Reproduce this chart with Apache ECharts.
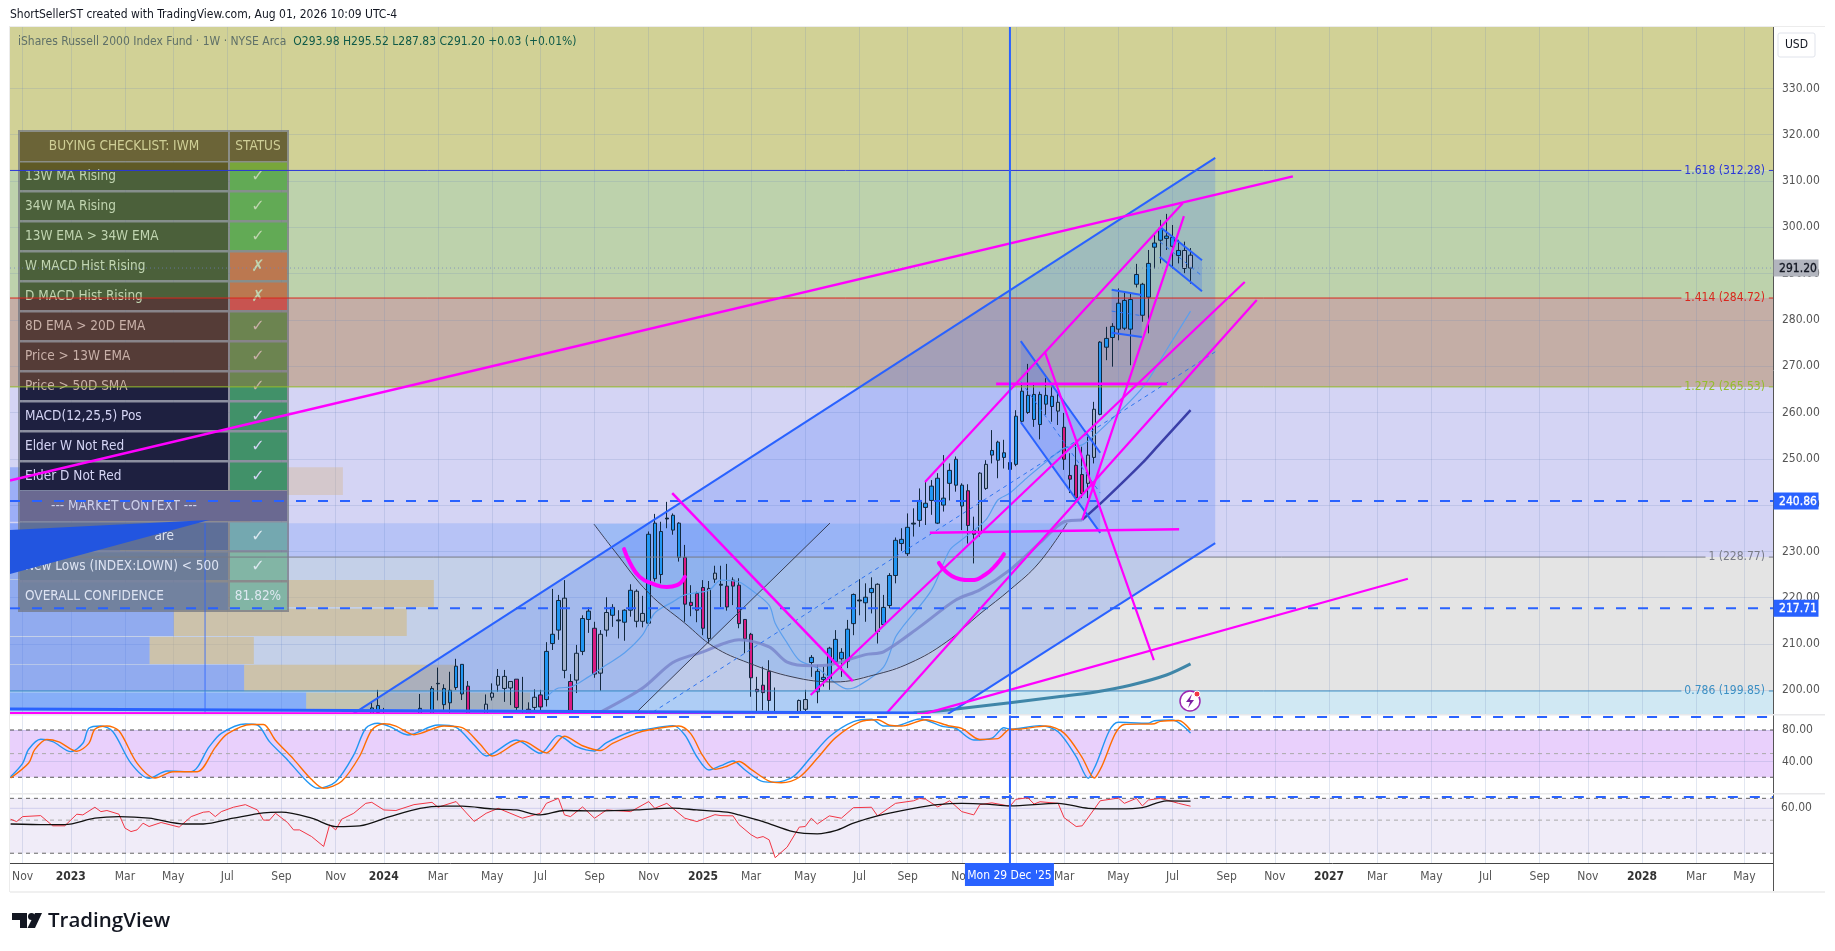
<!DOCTYPE html>
<html><head><meta charset="utf-8">
<style>html,body{margin:0;padding:0;background:#fff}#c{width:1835px;height:951px}</style>
<script src="https://cdn.jsdelivr.net/npm/echarts@6/dist/echarts.min.js"></script>
</head><body><div id="c"></div>
<script>
// ---------- x positions are weeks counted from the week of Mon 29 Dec 2025 ----------
const weekMin = -166.1, weekMax = 126.75;
const priceMin = 194.88, priceMax = 343.26;
const tickWeeks = [-164,-156,-147,-139,-130,-121,-112,-104,-95,-86,-78,-69,-60,-51,-43,-34,-25,-17,-8,1,9,18,27,36,44,53,61,70,79,88,96,105,114,122];
const tickTexts = ['Nov','2023','Mar','May','Jul','Sep','Nov','2024','Mar','May','Jul','Sep','Nov','2025','Mar','May','Jul','Sep','Nov','2026','Mar','May','Jul','Sep','Nov','2027','Mar','May','Jul','Sep','Nov','2028','Mar','May'];
const priceTicks = [200,210,220,230,240,250,260,270,280,290,300,310,320,330];

// ---------- candles ----------
const weeks = [-106,-105,-104,-98,-96,-95,-94,-93,-92,-91,
-90,-87,-86,-85,-84,-83,-82,-81,-80,-79,
-78,-77,-76,-75,-74,-73,-72,-71,-70,-69,
-68,-67,-66,-65,-64,-63,-62,-61,-60,-59,
-58,-57,-56,-55,-54,-53,-52,-51,-50,-49,
-48,-47,-46,-45,-44,-43,-42,-41,-40,-39,
-35,-34,-33,-32,-31,-30,-29,-28,-27,-26,
-25,-24,-23,-22,-21,-20,-19,-18,-17,-16,
-15,-14,-13,-12,-11,-10,-9,-8,-7,-6,
-5,-4,-3,-2,-1,0,1,2,3,4,
5,6,7,8,9,10,11,12,13,14,
15,16,17,18,19,20,21,22,23,24,
25,26,27,28,29,30];
const bodyTop = [196.2,196.7,194,196.1,200.4,201.5,200.4,200,205.2,205.6,
200.9,197,199.4,203,203,201.9,202.4,194.5,195.9,198.5,
199,208.4,212.1,219.4,219.9,201.9,208,215.5,217.1,213.4,
212.1,216.8,217.9,215.2,217.3,221.6,221.4,216.6,233.7,236.1,
234.3,237.2,237.8,236.1,228.7,219,220.9,222.2,222,225.3,
222.9,222.5,223.8,222.7,215.3,212.1,200.2,201.1,204.1,194.5,
197.8,198,207.1,204.1,202.8,209.1,211,208.2,213.2,220.7,
219.5,220.1,222,222.9,217.9,224.8,232.4,232.6,235.2,236.1,
241,240.4,244.1,245.8,241.5,247.5,249.9,244.3,243.1,234.5,
246.9,248.8,251.8,253.6,251.3,249.2,259.2,264.6,263.7,263.9,
263.9,263.7,263.5,262.2,256.8,246.4,248.6,246.6,250.8,260.7,
275.2,276,278.6,283.6,284.2,284.4,289.8,287.7,292.2,296.6,
299.8,298.1,297.8,295,295,293.98];
const bodyBottom = [190,195.2,190,190,193,201.4,196.9,197.3,200.6,199.2,
190,190,198.5,201.1,200.4,200.5,196.3,193,190,196.3,
196.4,198,210.1,213,204.3,190,202.2,208.4,215.3,203.5,
203.7,213,216.2,215,214.7,217.3,214.9,214.9,214.5,224.1,
225,237,234.6,228.7,218.6,218.3,217.3,213.4,211.2,224,
222.7,218,222.5,214.4,211.1,202.7,199.7,199.5,197.8,192,
190,195.9,206,199.7,202.3,202.5,206.1,206.8,206.3,214.4,
219.3,218.9,221.1,212.7,214.2,218.3,224.8,231.7,229.5,235.9,
236.7,239.5,241,236.1,240,244.7,244.3,239.8,235.6,233.7,
233.9,243.6,250.8,249.7,250.3,247.7,248.8,258.1,260,258.5,
257.4,261.8,261.3,260.3,249.9,245.6,241.6,242.5,244.7,250.3,
259.6,274.1,276.2,278,278.2,278,287.7,281,284.9,295.7,
297.2,297.6,295.9,293.9,291.1,291.2];
const wickHigh = [197.5,200.1,196.2,199.2,200.9,204.9,201.3,204,206.8,205.6,
202,199.1,201.5,204.6,204.4,201.9,202.4,202.9,197.4,200.2,
200.1,210.4,221.9,220.6,223.8,203.5,209.8,216.2,217.9,214.8,
213,220.1,218.6,217.3,217.5,222.9,221.8,220.4,234.3,238.1,
236.4,240.7,238.2,236.3,231.4,222.7,221.3,223.8,223.6,226.9,
226.9,227.3,224.4,224.2,215.3,212.4,202.9,205.1,206.5,200.6,
198,200.1,207.6,205.5,205.1,209.4,213,209.1,215.2,220.9,
224,223.1,224.4,223.1,220.6,225.3,233,235,238.2,239.3,
243.6,245,245.4,246.9,250.8,249,250.5,244.7,244.5,237.5,
247.1,249.7,256.2,253.9,254.1,250.5,260.5,266.4,270.5,266.4,
264.5,267.4,265.6,264.2,259.9,251.2,253.4,252.6,254.8,262.3,
275.4,278.5,279.3,286.8,286.1,285.9,292.1,288,295.1,298.7,
301.6,302.9,300.5,297.3,296.9,295.52];
const wickLow = [188,193,188,188,190,197.8,195.3,194,200.1,197.9,
188,188,197.8,199.7,197.5,196.8,195.7,188,188,195.3,
195.7,196.5,208.7,210.9,202.6,188,199.4,207.6,212.4,202.7,
199.9,211.6,213.7,211.2,210.7,215.9,213.6,213.6,214,223.5,
223.1,235,233.6,227.8,214.8,216,214.7,211.9,210.2,223.2,
218,217.2,218.4,213.4,208,198.6,195.4,195.7,195.4,188,
188,188,202.9,197.2,200.8,200.1,205.5,202.9,204.8,211.9,
216.2,214.8,216.6,210.1,214.1,217.7,223.1,230.1,229,233.2,
235.3,235.7,237.9,235.9,238.6,241,242.9,234.6,231.7,227.4,
233.2,243.3,249,245.8,247.9,241.1,248.4,257.5,259.7,256.9,
254.2,259.5,258,257.3,247.6,242.6,241.1,241.5,241.5,249,
259.4,271.3,269.9,275.6,277.8,270.2,287,279.6,277.1,291.1,
292.2,295.1,291.1,292.2,290.1,287.83];
const tones = ('b b g b b n b b b b ' + 'm g g g g g m g m g ' + 'm b b b g m g b b m ' + 'g g b n b b g g b b ' +
 'b n b b m m m m g g ' + 'n m m m m m m m m m ' + 'g g b b b b b b b b ' + 'n b b g b b b b b n ' +
 'b b b b b b b b m m ' + 'g g b b b b b b b b ' + 'b b b g m m m m g g ' + 'b b b b b b b b b b ' + 'b b b b g g').split(' ');

// ---------- moving averages [week, value] ----------
const ma13 = [[-77,198.5],[-75,200.5],[-73,200.7],[-70,202.9],[-67,205.5],[-64,208.1],[-61,212],[-59,216.7],[-56,219.1],[-54,220.6],[-50,221.6],[-48,223.8],[-45,223.4],[-43,221.7],[-40,218.4],[-39,214.5],[-37,210.2],[-35,206.5],[-32,204.8],[-29,201.6],[-27,200.3],[-25,201.1],[-21,205],[-19,211.5],[-18,213.4],[-13,221.7],[-10,230.3],[-8,232.5],[-4,236.8],[-2,241.1],[0,242.6],[3,246.1],[7,250.4],[9,252.3],[12,253],[15,256.2],[22,265.3],[26,273.5],[30,281.9]];
const ma34a = [[-68,195.3],[-61,200.5],[-56,206],[-51,208.3],[-45,210.9],[-40,209.4],[-37,206.1],[-33,205.3],[-30,205.5],[-24,207.7],[-21,208.3],[-15,213.7],[-9,219.5],[-5,221.7],[0,226],[5,231.9],[9,236.4],[12,236.8]];
const ma34b = [[12,236.8],[16,241.5],[22,249.1],[25,253.4],[30,260.5]];
const ma200 = [[-16,195.1],[-10,195.8],[0,197.3],[8,198.6],[14,199.6],[20,201.1],[26,203.3],[30,205.7]];

// ---------- stochastic pane ----------
const stochK = [[-166,20.7],[-164,37.7],[-163,55.5],[-161,68.2],[-159,65.2],[-156,52.5],[-154,63.1],[-153,82.2],[-151,85.1],[-149,77.8],[-146,37.7],[-143,18.7],[-140,28],[-136,27.1],[-133,58.8],[-131,75.8],[-127,87.6],[-125,86.3],[-123,65.2],[-120,41.9],[-117,16.5],[-115,6],[-112,14.4],[-109,48.3],[-107,82.2],[-105,88.5],[-103,84.2],[-100,73.7],[-95,86.3],[-92,83.4],[-89,61],[-87,47],[-82,67.3],[-78,50.4],[-75,72.8],[-72,58.8],[-69,53.4],[-67,63.9],[-63,77.8],[-61,80],[-56,85.5],[-54,73.7],[-52,46],[-50,29.2],[-48,34.7],[-46,40.7],[-44,29.2],[-41,14.4],[-39,13.6],[-36,20.7],[-33,46.1],[-30,71.5],[-26,90.5],[-23,93.6],[-21,85.1],[-19,85.1],[-15,94],[-11,84.2],[-9,82.2],[-6,67.3],[-3,69.5],[-1,82.9],[0,80.9],[5,85.5],[8,77.8],[11,46.1],[13,18.7],[14,31.4],[18,89.8],[23,88.5],[24,91.8],[27,92.7],[30,76]];
const stochD = [[-166,19],[-163,38],[-162,55],[-160,68],[-158,65],[-155,53],[-153,63],[-152,81],[-150,85],[-148,79],[-145,38],[-142,19],[-139,27],[-135,27],[-132,58],[-130,75],[-126,87],[-124,87],[-122,67],[-119,43],[-116,17],[-114,6],[-111,15],[-108,47],[-106,80],[-104,88],[-102,85],[-99,74],[-94,85],[-91,83],[-88,62],[-86,47],[-81,66],[-77,51],[-74,72],[-71,60],[-68,54],[-66,63],[-62,76],[-60,80],[-55,85],[-53,75],[-51,47],[-49,30],[-47,34],[-45,40],[-43,30],[-40,15],[-38,13],[-35,20],[-32,44],[-29,70],[-25,90],[-22,93],[-20,86],[-18,85],[-14,93],[-10,85],[-8,82],[-5,68],[-2,69],[0,81],[1,81],[6,85],[9,76],[12,45],[14,19],[15,30],[19,87],[24,88],[25,91],[28,92],[30,80]];

// ---------- RSI pane ----------
const rsi = [[-166,50.7],[-165,48.9],[-164,52.8],[-161,53.6],[-159,45.8],[-157,45.8],[-155,54.8],[-154,54.2],[-152,61],[-151,57],[-150,58],[-148,54.8],[-147,44.2],[-146,41.9],[-145,43],[-144,47.7],[-143,45.3],[-141,48.2],[-138,44.9],[-136,52.8],[-134,56.5],[-133,57],[-132,52.8],[-131,57],[-129,61],[-127,63.5],[-125,58.5],[-124,50],[-123,50],[-122,55.6],[-120,48.2],[-119,43],[-118,43],[-116,38.8],[-114,33.3],[-113,46.6],[-112,43],[-111,50.7],[-109,55.6],[-107,64.8],[-106,65.8],[-104,58.5],[-102,58],[-99,63.5],[-96,65.8],[-95,61],[-92,66.6],[-89,49],[-87,55.6],[-85,60],[-81,51.5],[-78,55.6],[-77,64.8],[-75,70],[-74,54.2],[-73,52.8],[-71,61.3],[-69,51.5],[-67,58.5],[-63,57],[-60,66.6],[-59,60],[-57,64.8],[-54,51.5],[-52,48.9],[-49,54.4],[-48,53.6],[-46,53.4],[-45,46.6],[-43,39.9],[-42,37.9],[-41,38.8],[-40,36.9],[-39,28],[-37,33],[-35,44.9],[-34,45.3],[-33,51.5],[-32,47.1],[-30,53.4],[-28,51.5],[-26,60.6],[-23,61],[-22,53.4],[-19,64.8],[-16,67.4],[-15,70],[-14,69],[-12,61.3],[-10,67.4],[-8,57],[-6,54.2],[-5,63.5],[-3,65.3],[0,62],[1,69],[3,70.6],[4,64.1],[5,66.4],[8,64.8],[9,51.9],[11,45.3],[12,45.8],[15,67.4],[18,70.3],[19,64.8],[21,70],[22,62.3],[23,68.2],[25,70],[28,64.8],[30,62]];
const rsiMa = [[-166,47.1],[-160,46.6],[-157,46.6],[-152,51.5],[-148,52.8],[-143,51.5],[-137,47.1],[-134,47.1],[-129,51.5],[-124,56],[-121,56.5],[-116,51.5],[-112,45.3],[-108,45.8],[-103,52.8],[-98,60],[-94,62],[-91,62],[-86,59.4],[-82,58.5],[-78,54.2],[-74,58],[-69,57.6],[-62,58.5],[-56,60.2],[-52,58.5],[-47,56.5],[-45,54.2],[-41,48.9],[-36,41.9],[-32,40.5],[-29,42.5],[-26,47.7],[-22,53.4],[-16,60],[-12,63.5],[-8,64.8],[-4,64.1],[0,62.3],[8,64.8],[13,60],[18,59.4],[22,60.6],[26,67.4],[30,67]];

// ---------- background fib zones [low, high] and their levels ----------
const zoneLows  = [312.28,284.72,265.53,228.77,199.85,190];
const zoneHighs = [350,312.28,284.72,265.53,228.77,199.85];
const zoneFills = ['#d1d196','#bdd2ac','#c4aea6','#d4d4f4','#e4e4e4','#d0e8f3'];
const fibValues = [312.28,284.72,265.53,228.77,199.85];
const fibTexts  = ['1.618 (312.28)','1.414 (284.72)','1.272 (265.53)','1 (228.77)','0.786 (199.85)'];
const fibColors = ['#2a36d8','#d9261c','#93bd2d','#787b86','#3b8fc4'];
const fibGapFrom= [112.2,112.2,112.2,116.2,112.2];

// ---------- volume profile rows: price low, price high, blue end week, beige end week ----------
const vpLow  = [195.9,199.8,205.7,211.7,218,224,230.1,236.4,242.2];
const vpHigh = [199.5,205.5,211.5,217.6,223.8,229.9,236.1,242.2,248.2];
const vpBlue = [-116.9,-127.2,-142.9,-138.9,-133.7,-141.2,-147.8,-151.2,-134.6];
const vpBeige= [-79.7,-91.9,-125.6,-100.2,-95.7,-122.9,-129.6,-126.2,-110.8];

// ---------- drawings as [week, price] ----------
const magentaLines = [
 {p:[[-166.1,245.3],[47,311]],w:2.5},{p:[[-14.3,194.9],[66.1,224.1]],w:2.2},{p:[[-14.1,245],[28.7,305.2]],w:2.2},
 {p:[[-33.1,199],[39,288.2]],w:2.2},{p:[[-20.6,194.9],[41,284.3]],w:2.2},{p:[[-56.1,242.6],[-26.1,202]],w:2.5},
 {p:[[-13.3,234],[28.1,234.8]],w:2.5},{p:[[-2.3,266.2],[26.1,266.2]],w:2.8},{p:[[5.8,273.1],[23.9,206.5]],w:2.2},
 {p:[[12,236.8],[28.9,302.4]],w:2.2},{p:[[-166.1,195.1],[-14.3,194.95]],w:2}];
const smileA = [[-64.1,230.5],[-63.1,227.5],[-61.5,224.5],[-59.3,223],[-57,222.3],[-55.3,222.7],[-54,224.5]];
const smileB = [[-11.8,227.5],[-10.6,225.6],[-9,224.3],[-6.5,223.8],[-4.2,224.9],[-2.3,227.1],[-1,229.4]];
const blueLines = [
 [[-109.1,194.9],[34.1,315]],[[-10.3,194.9],[34.1,231.8]],
 [[1.8,275.4],[15,251.3]],[[1.8,257.9],[15,234]],
 [[16.9,286.5],[21.9,285.4]],[[16.9,277.2],[21.9,276.3]],
 [[24.9,300.1],[31.9,292.9]],[[24.9,293.6],[31.9,286.2]]];
const baseLine = [[-166.1,195.96],[-15.4,195.1]];
const blueDashes = [[[-59.3,195.3],[34.1,273.1]],[[1.8,266.7],[15,242.6]],[[16.9,281.9],[21.9,280.9]],[[24.9,296.9],[31.9,289.5]]];
const channelFills = [
 [[-109.1,194.9],[34.1,315],[34.1,231.8],[-10.3,194.9]],
 [[1.8,275.4],[15,251.3],[15,234],[1.8,257.9]],
 [[16.9,286.5],[21.9,285.4],[21.9,276.3],[16.9,277.2]],
 [[24.9,300.1],[31.9,292.9],[31.9,286.2],[24.9,293.6]]];
const cupArc = [[-69.1,235.9],[-65.8,230.3],[-60,221],[-54,214.5],[-49.2,209.4],[-43.4,205.9],[-36.2,202.9],[-29.1,201.8],[-22.6,203.3],[-16.6,205.9],[-10.6,210.4],[-4.8,216.7],[0,221.7],[4.8,227.5],[9.5,236.1]];
const cupLine = [[-62.3,194.9],[-29.9,236.1]];
const boxLeft = [[-166.1,236.1],[-29.9,236.1],[-62.3,194.9],[-166.1,194.9]];
const cornerWedge = [[-166.1,234.6],[-133,236.8],[-166.1,225.1]];

// ---------- checklist ----------
const checkNames = ['13W MA Rising','34W MA Rising','13W EMA > 34W EMA','W MACD Hist Rising','D MACD Hist Rising','8D EMA > 20D EMA','Price > 13W EMA','Price > 50D SMA','MACD(12,25,5) Pos','Elder W Not Red','Elder D Not Red'];
const checkMarks = ['✓','✓','✓','✗','✗','✓','✓','✓','✓','✓','✓'];

// ---------- styling ----------
const FONT = '"DejaVu Sans Condensed","DejaVu Sans",sans-serif';
const BLUE = '#2962ff', MAG = '#ff00ff';
const toneFill = {b:'#2196f3', g:'#a3b1cc', m:'#d81b82', n:'#12283f'};
const BORDER = '#12283f';

function lineS(name, pts, color, width, o={}, axis=0){
  return {type:'line',name,data:pts,xAxisIndex:axis,yAxisIndex:axis,symbol:'none',silent:true,animation:false,clip:true,
    smooth:o.smooth||false,z:o.z||6,lineStyle:{color,width,type:o.type||'solid',opacity:o.opacity==null?1:o.opacity,cap:o.cap||'butt'},
    endLabel:o.endLabel};
}
function polyS(name, pts, fill, z, axis=0){
  return {type:'custom',name,xAxisIndex:axis,yAxisIndex:axis,silent:true,animation:false,clip:true,z,data:[pts[0]],
    renderItem:(p,api)=>({type:'polygon',shape:{points:pts.map(q=>api.coord(q))},style:{fill}})};
}
function rectsS(name, rows, z, axis=0){ // rows: [w0,w1,lo,hi,fill]
  return {type:'custom',name,xAxisIndex:axis,yAxisIndex:axis,silent:true,animation:false,clip:true,z,
    data:rows.map(r=>r.slice(0,4)),encode:{x:[0,1],y:[2,3]},
    renderItem:(p,api)=>{const a=api.coord([api.value(0),api.value(3)]),b=api.coord([api.value(1),api.value(2)]);
      return {type:'rect',shape:{x:a[0],y:a[1],width:b[0]-a[0],height:b[1]-a[1]},style:{fill:rows[p.dataIndex][4]}};}};
}
function tagS(price, text, bg, fg){
  return {type:'custom',name:'tag '+text,silent:true,animation:false,clip:false,z:12,data:[[weekMax,price]],
    renderItem:(p,api)=>{const c=api.coord([weekMax,price]);
      return {type:'group',children:[
        {type:'rect',shape:{x:c[0]+0.5,y:c[1]-8.5,width:45,height:17},style:{fill:bg},z2:1},
        {type:'text',style:{x:c[0]+25,y:c[1]+1,text,fill:fg,stroke:fg,lineWidth:0.3,font:'12px '+FONT,textAlign:'center',textVerticalAlign:'middle'},z2:2}]};}};
}

const clampP = v => Math.max(v, priceMin);
const candles = weeks.map((w,i)=>{const up=tones[i]==='b';const f=toneFill[tones[i]];
  const t=clampP(bodyTop[i]),b=clampP(bodyBottom[i]);
  return {value:[w, up?b:t, up?t:b, clampP(wickLow[i]), clampP(wickHigh[i])],
    itemStyle:{color:f,color0:f,borderColor:BORDER,borderColor0:BORDER,borderColorDoji:BORDER,borderWidth:1}};});

const series = [];
series.push(rectsS('fib zones', zoneLows.map((l,i)=>[weekMin,weekMax,l,zoneHighs[i],zoneFills[i]]), 1));
series.push(polyS('box', boxLeft, 'rgba(41,110,255,0.17)', 3));
series.push(polyS('cup fill', cupArc, 'rgba(33,150,243,0.17)', 3));
series.push(rectsS('volume blue', vpLow.map((l,i)=>[weekMin,vpBlue[i],l,vpHigh[i],'rgba(41,98,255,0.33)']), 3));
series.push(rectsS('volume beige', vpLow.map((l,i)=>[vpBlue[i],vpBeige[i],l,vpHigh[i],i===8?'rgba(212,172,114,0.3)':'rgba(212,180,110,0.5)']), 3));
channelFills.forEach((c,i)=>series.push(polyS('channel '+i, c, 'rgba(41,98,255,0.2)', 3)));
series.push(lineS('poc',[[-133.7,236.1],[-133.7,190]],'rgba(41,98,255,0.55)',1.5,{z:4}));
series.push({type:'candlestick',name:'IWM',data:candles,barWidth:4,silent:true,animation:false,clip:true,z:5,xAxisIndex:0,yAxisIndex:0});
series.push(lineS('13W',ma13,'#5b9fee',1.2,{smooth:.3}));
series.push(lineS('34W a',ma34a,'#7a86cc',3,{smooth:.3,opacity:.85}));
series.push(lineS('34W b',ma34b,'#3b3fa8',2.5,{smooth:.3}));
series.push(lineS('200W',ma200,'#3f86a8',3,{smooth:.3}));
series.push(lineS('cup arc',cupArc,'#3a3f55',1,{smooth:.4}));
series.push(lineS('cup line',cupLine,'#3a3f55',1));
series.push(lineS('last',[[weekMin,291.2],[weekMax,291.2]],'rgba(110,125,190,.7)',1,{type:[1,3]}));
series.push(lineS('240.86',[[weekMin,240.86],[weekMax,240.86]],BLUE,2,{type:[10,12]}));
series.push(lineS('217.71',[[weekMin,217.71],[weekMax,217.71]],BLUE,2,{type:[10,12]}));
series.push({type:'custom',name:'fib levels',silent:true,animation:false,clip:true,z:6,data:fibValues.map(v=>[0,v]),
  renderItem:(p,api)=>{const i=p.dataIndex,v=fibValues[i],c=fibColors[i];
    const a=api.coord([weekMin,v]),b=api.coord([fibGapFrom[i],v]),e=api.coord([125.4,v]),z=api.coord([weekMax,v]);
    const ln=(x1,x2)=>({type:'line',shape:{x1,y1:a[1],x2,y2:a[1]},style:{stroke:c,lineWidth:1}});
    return {type:'group',children:[ln(a[0],b[0]-4),ln(e[0]+4,z[0]),
      {type:'text',style:{x:e[0],y:a[1],text:fibTexts[i],fill:c,font:'12px '+FONT,textAlign:'right',textVerticalAlign:'middle'}}]};}});
blueLines.forEach((p,i)=>series.push(lineS('blue '+i,p,BLUE,2)));
blueDashes.forEach((p,i)=>series.push(lineS('mid '+i,p,'#2f74f0',1,{type:[4,4]})));
magentaLines.forEach((m,i)=>series.push(lineS('trend '+i,m.p,MAG,m.w,{z:7})));
series.push(lineS('base',baseLine,BLUE,3,{z:8}));
series.push(lineS('smile a',smileA,MAG,4,{smooth:.5,z:7,cap:'round'}));
series.push(lineS('smile b',smileB,MAG,4,{smooth:.5,z:7,cap:'round'}));
series.push(polyS('wedge',cornerWedge,'#2255e0',9));
// stochastic pane
series.push(rectsS('stoch band',[[weekMin,weekMax,20,80,'#e9d0fc']],1,1));
series.push(lineS('s80',[[weekMin,80],[weekMax,80]],'#555',1,{type:[4,4]},1));
series.push(lineS('s50',[[weekMin,50],[weekMax,50]],'#aaa',1,{type:[4,4]},1));
series.push(lineS('s20',[[weekMin,20],[weekMax,20]],'#555',1,{type:[4,4]},1));
series.push(lineS('stoch top',[[-84.2,96.5],[weekMax,96.5]],BLUE,2,{type:[10,12]},1));
series.push(lineS('%K',stochK,'#2196f3',1.4,{smooth:.3},1));
series.push(lineS('%D',stochD,'#ff6d00',1.4,{smooth:.3},1));
// RSI pane
series.push(rectsS('rsi band',[[weekMin,weekMax,30,70,'#f0ecf8']],1,2));
series.push(lineS('r60',[[weekMin,60],[weekMax,60]],'rgba(170,170,225,.45)',1,
  {z:2,endLabel:{show:true,formatter:'60.00',color:'#555',fontFamily:FONT,fontSize:12,distance:8,padding:[3,0,0,0]}},2));
series.push(lineS('r70',[[weekMin,70],[weekMax,70]],'#666',1,{type:[4,4]},2));
series.push(lineS('r50',[[weekMin,50],[weekMax,50]],'#aaa',1,{type:[4,4]},2));
series.push(lineS('r30',[[weekMin,30],[weekMax,30]],'#666',1,{type:[4,4]},2));
series.push(lineS('rsi top',[[-85.4,71.4],[weekMax,71.4]],BLUE,2,{type:[10,12]},2));
series.push(lineS('RSI',rsi,'#f23645',1,{},2));
series.push(lineS('RSI MA',rsiMa,'#111',1.3,{smooth:.3},2));
// crosshair line in all panes
series.push(lineS('v0',[[0,190],[0,350]],BLUE,2,{z:8},0));
series.push(lineS('v1',[[0,0],[0,101]],BLUE,2,{z:8},1));
series.push(lineS('v2',[[0,25.8],[0,76]],BLUE,2,{z:8},2));
// tags
series.push(tagS(291.2,'291.20','#b2b5be','#131722'));
series.push(tagS(240.86,'240.86',BLUE,'#fff'));
series.push(tagS(217.71,'217.71',BLUE,'#fff'));
series.push({type:'custom',name:'date tag',silent:true,animation:false,clip:false,z:12,xAxisIndex:2,yAxisIndex:2,data:[[0,25.8]],
  renderItem:(p,api)=>{const c=api.coord([0,25.8]);
    return {type:'group',children:[
      {type:'rect',shape:{x:c[0]-45,y:c[1],width:89,height:23},style:{fill:BLUE},z2:1},
      {type:'text',style:{x:c[0]-0.5,y:c[1]+13,text:"Mon 29 Dec '25",fill:'#fff',font:'12px '+FONT,textAlign:'center',textVerticalAlign:'middle'},z2:2}]};}});

// ---------- page furniture and checklist drawn with graphic ----------
const g = [];
const rect=(x,y,w,h,fill,z=4)=>g.push({type:'rect',shape:{x,y,width:w,height:h},style:{fill},z,silent:true});
const text=(x,y,t,fill,font,align='left',z=5)=>g.push({type:'text',style:{x,y,text:t,fill,font,textAlign:align,textVerticalAlign:'middle'},z,silent:true});
const F12='12px '+FONT, F13='13.5px '+FONT, CHK='16px "DejaVu Sans"';
text(10,15,'ShortSellerST created with TradingView.com, Aug 01, 2026 10:09 UTC-4','#131722',F12);
g.push({type:'text',silent:true,z:10,style:{x:18,y:42,textVerticalAlign:'middle',font:F12,
  text:'{a|iShares Russell 2000 Index Fund · 1W · NYSE Arca}  {v|O293.98} {v|H295.52} {v|L287.83} {v|C291.20} {v|+0.03 (+0.01%)}',
  rich:{a:{fill:'#5f7068',font:F12},v:{fill:'#0f5a48',font:F12}}}});
// table
const nameFill=(y)=>y<170?'#5f5a25':y<298?'#4b603a':y<387?'#553c37':'#1e2040';
const okFill=(y)=>y<170?'#78a63a':y<298?'#62aa55':y<387?'#6c8450':'#419169';
const badFill=(y)=>y<298?'#bb7850':'#c85450';
const txtFill=(y)=>y<170?'#b9c79a':y<298?'#c0d4b0':y<387?'#c8b0a8':'#d4d4f4';
const breaks=[170,298,387];
rect(18,130,271,482,'rgba(112,116,128,0.72)',4);
rect(20,132,208,29,'#6b6437');rect(230,132,57,29,'#6b6437');
text(124,146,'BUYING CHECKLIST: IWM','#cfcf96',F13,'center');
text(258,146,'STATUS','#cfcf96',F13,'center');
checkNames.forEach((n,i)=>{
  const top=161+i*30+1.5,bot=top+27.5;
  const cuts=[top,...breaks.filter(b=>b>top&&b<bot),bot];
  for(let k=0;k<cuts.length-1;k++){
    const y0=cuts[k],y1=cuts[k+1],m=(y0+y1)/2;
    rect(20,y0,208,y1-y0,nameFill(m));
    rect(230,y0,57,y1-y0,checkMarks[i]==='✗'?badFill(m):okFill(m));
  }
  const cy=top+14;
  text(25,cy,n,txtFill(cy),F13);
  text(258,cy,checkMarks[i],txtFill(cy),CHK,'center');
});
rect(20,491,267,30,'#6a6991');
text(124,506,'--- MARKET CONTEXT ---','#cdd0ea',F13,'center');
const lastRows=[['','#5e6f98','#74a8b0','✓'],['New Lows (INDEX:LOWN) < 500','#6d7d98','#82b5a5','✓'],['OVERALL CONFIDENCE','#72829f','#82b5a5','81.82%']];
lastRows.forEach((r,i)=>{
  const top=521+i*30+1.5;
  rect(20,top,208,27.5,r[1]);rect(230,top,57,27.5,r[2]);
  if(r[0]) text(25,top+14,r[0],'#dde3f2',F13);
  text(258,top+14,r[3],'#dde8f0',r[3].length>1?F13:CHK,'center');
});
text(174,536,'are','#dde3f2',F13,'right');
// frame and pane separators
rect(9,26,1,866,'#ececec',10);
rect(10,26,1815,1,'#ececec',10);
rect(10,714,1815,1.5,'#e8e8ea',10);
rect(10,793,1815,1.5,'#e8e8ea',10);
rect(10,891,1815,2,'#f0f0f0',10);
rect(1773,863,1,28,'#555',10);
// currency box
g.push({type:'rect',shape:{x:1778,y:33,width:37,height:24,r:2},style:{fill:'#fff',stroke:'#e0e3eb',lineWidth:1},z:10,silent:true});
text(1796.5,45,'USD','#131722',F12,'center',11);
// alert icon
g.push({type:'circle',shape:{cx:1190,cy:701,r:10},style:{fill:'#fff',stroke:'#9c27b0',lineWidth:1.5},z:11,silent:true});
g.push({type:'polygon',shape:{points:[[1192,694],[1186,702],[1190,702],[1188,708],[1194,700],[1190,700]]},style:{fill:'#7b1fa2'},z:11,silent:true});
g.push({type:'circle',shape:{cx:1197,cy:694,r:3},style:{fill:'#f23645',stroke:'#fff',lineWidth:1},z:11,silent:true});
// brand
g.push({type:'polygon',shape:{points:[[12,913],[27,913],[27,928],[20,928],[20,920],[12,920]]},style:{fill:'#131722'},z:10,silent:true});
g.push({type:'circle',shape:{cx:31.5,cy:916.5,r:3.5},style:{fill:'#131722'},z:10,silent:true});
g.push({type:'polygon',shape:{points:[[35,913],[42,913],[35,928],[27.5,928]]},style:{fill:'#131722'},z:10,silent:true});
text(48,921,'TradingView','#131722','600 20.5px "Open Sans",sans-serif','left',10);

// ---------- axes ----------
const tickLookup = new Map(tickWeeks.map((w,i)=>[w,tickTexts[i]]));
const vLine = {show:true,lineStyle:{color:'rgba(110,135,185,0.2)',width:1}};
const hLine = {show:true,lineStyle:{color:'rgba(110,135,185,0.2)',width:1}};
function xAx(i,labels){return {type:'value',gridIndex:i,min:weekMin,max:weekMax,z:2,
  axisLine:{show:labels,onZero:false,lineStyle:{color:'#444',width:1}},axisTick:{show:false,customValues:tickWeeks},splitLine:vLine,
  axisLabel:{show:labels,customValues:tickWeeks,margin:8,hideOverlap:false,showMinLabel:true,showMaxLabel:true,color:'#555',fontFamily:FONT,fontSize:12,
    formatter:v=>{const t=tickLookup.get(v);return /^\d{4}$/.test(t)?'{y|'+t+'}':t;},
    rich:{y:{color:'#333',fontWeight:'bold',fontFamily:FONT,fontSize:12}}}};}
const yLine={show:true,onZero:false,lineStyle:{color:'#555',width:1}};
const yLab=(vals)=>({customValues:vals,color:'#555',fontFamily:FONT,fontSize:12,margin:9,padding:[3,0,0,0],formatter:v=>v.toFixed(2),showMinLabel:true,showMaxLabel:true,hideOverlap:false});
const option={
  animation:false,backgroundColor:'#fff',
  grid:[{left:10,top:27,width:1763,height:687},{left:10,top:714,width:1763,height:79},{left:10,top:793,width:1763,height:70}],
  xAxis:[xAx(0,false),xAx(1,false),xAx(2,true)],
  yAxis:[
   {type:'value',gridIndex:0,position:'right',min:priceMin,max:priceMax,z:2,axisLine:yLine,axisTick:{show:false,customValues:priceTicks},splitLine:hLine,axisLabel:yLab(priceTicks)},
   {type:'value',gridIndex:1,position:'right',min:0,max:100.3,z:2,axisLine:yLine,axisTick:{show:false,customValues:[40,80]},splitLine:hLine,axisLabel:yLab([40,80])},
   {type:'log',gridIndex:2,position:'right',min:25.8,max:76,z:2,axisLine:yLine,axisTick:{show:false},splitLine:{show:false},axisLabel:{show:false}}
  ],
  series,graphic:{elements:g}
};
const chart=echarts.init(document.getElementById('c'),null,{width:1835,height:951});
chart.setOption(option);
</script></body></html>
